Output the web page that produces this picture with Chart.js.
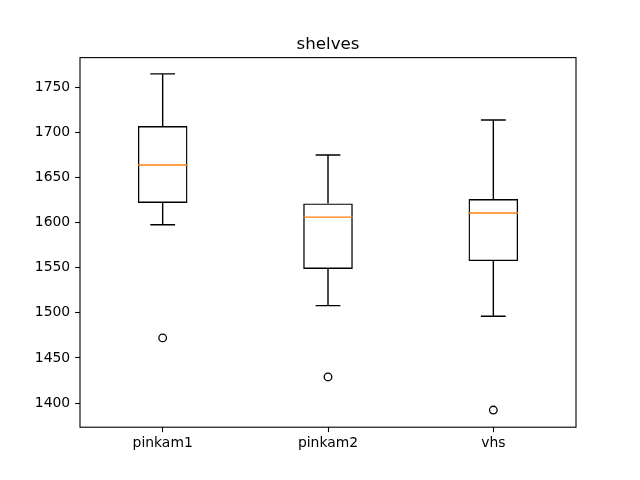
<!DOCTYPE html>
<html>
<head>
<meta charset="utf-8">
<script src="https://cdn.jsdelivr.net/npm/chart.js@4/dist/chart.umd.min.js"></script>
<style>
  html, body { margin: 0; padding: 0; background: #fff; }
  canvas { display: block; }
</style>
</head>
<body>
<canvas id="chart" width="640" height="480"></canvas>
<script>
// --- Data ---
const categories = ['pinkam1', 'pinkam2', 'vhs'];
const whiskerLow = [1597.6, 1508.0, 1496.2];
const quartile1 = [1621.7, 1548.7, 1557.3];
const medians = [1663.8, 1606.1, 1610.6];
const quartile3 = [1707.1, 1621.2, 1626.1];
const whiskerHigh = [1764.9, 1674.9, 1713.8];
const outliers = [1472.2, 1428.9, 1392.2];
const yTicks = [1400, 1450, 1500, 1550, 1600, 1650, 1700, 1750];
const yMin = 1373.2;
const yMax = 1782.9;
const titleText = 'shelves';

// --- Style ---
const FONT = 'DejaVu Sans';
const BOX_FRACTION = 0.3;   // box width as a fraction of one category slot
const LINE_W = 1.4;
const MEDIAN_COLOR = '#ff7f0e';

Chart.defaults.font.family = FONT;
Chart.defaults.color = '#000';

// whiskers, caps, medians, frame and title
const boxExtras = {
  id: 'boxExtras',
  afterDatasetsDraw(chart) {
    const { ctx, chartArea, scales: { x, y } } = chart;
    const slot = (chartArea.right - chartArea.left) / categories.length;
    const half = slot * BOX_FRACTION / 2;
    const capHalf = half / 2;

    ctx.save();
    ctx.lineWidth = LINE_W;
    ctx.lineCap = 'butt';
    categories.forEach((c, i) => {
      const cx = x.getPixelForValue(i);
      // whiskers
      ctx.strokeStyle = '#000';
      ctx.beginPath();
      ctx.moveTo(cx, y.getPixelForValue(quartile3[i]));
      ctx.lineTo(cx, y.getPixelForValue(whiskerHigh[i]));
      ctx.moveTo(cx, y.getPixelForValue(quartile1[i]));
      ctx.lineTo(cx, y.getPixelForValue(whiskerLow[i]));
      // caps
      const yh = y.getPixelForValue(whiskerHigh[i]);
      const yl = y.getPixelForValue(whiskerLow[i]);
      ctx.moveTo(cx - capHalf, yh);
      ctx.lineTo(cx + capHalf, yh);
      ctx.moveTo(cx - capHalf, yl);
      ctx.lineTo(cx + capHalf, yl);
      ctx.stroke();
      // median
      const ym = y.getPixelForValue(medians[i]);
      ctx.strokeStyle = MEDIAN_COLOR;
      ctx.beginPath();
      ctx.moveTo(cx - half, ym);
      ctx.lineTo(cx + half, ym);
      ctx.stroke();
    });

    // axes frame
    ctx.strokeStyle = '#000';
    ctx.lineWidth = 1.1;
    ctx.strokeRect(chartArea.left, chartArea.top,
      chartArea.right - chartArea.left, chartArea.bottom - chartArea.top);

    // title
    ctx.fillStyle = '#000';
    ctx.font = '16.67px "' + FONT + '"';
    ctx.textAlign = 'center';
    ctx.textBaseline = 'alphabetic';
    ctx.fillText(titleText, (chartArea.left + chartArea.right) / 2, chartArea.top - 8.3);
    ctx.restore();
  }
};

new Chart(document.getElementById('chart'), {
  data: {
    labels: categories,
    datasets: [
      {
        type: 'bar',
        data: quartile1.map((q, i) => [q, quartile3[i]]),
        backgroundColor: 'rgba(0,0,0,0)',
        borderColor: '#000',
        borderWidth: LINE_W,
        borderSkipped: false,
        barPercentage: BOX_FRACTION,
        categoryPercentage: 1
      },
      {
        type: 'line',
        data: outliers,
        showLine: false,
        pointStyle: 'circle',
        pointRadius: 3.8,
        pointBorderWidth: 1.3,
        pointBorderColor: '#000',
        pointBackgroundColor: 'rgba(0,0,0,0)'
      }
    ]
  },
  options: {
    responsive: false,
    animation: false,
    devicePixelRatio: 1,
    layout: { padding: { top: 57.6, right: 64, bottom: 0, left: 0 } },
    plugins: {
      legend: { display: false },
      title: { display: false },
      tooltip: { enabled: false }
    },
    scales: {
      x: {
        type: 'category',
        offset: true,
        border: { display: false },
        grid: {
          offset: false,
          drawOnChartArea: false,
          drawTicks: true,
          tickLength: 4.9,
          tickWidth: 1.1,
          tickColor: '#000'
        },
        ticks: { color: '#000', font: { size: 13.9 }, padding: 3, maxRotation: 0 },
        afterFit: (scale) => { scale.height = 52.8; }
      },
      y: {
        min: yMin,
        max: yMax,
        border: { display: false },
        grid: {
          drawOnChartArea: false,
          drawTicks: true,
          tickLength: 4.9,
          tickWidth: 1.1,
          tickColor: '#000'
        },
        ticks: {
          color: '#000',
          font: { size: 13.9 },
          padding: 4.9,
          callback: (v) => String(v)
        },
        afterBuildTicks: (scale) => { scale.ticks = yTicks.map(v => ({ value: v })); },
        afterFit: (scale) => { scale.width = 80; }
      }
    }
  },
  plugins: [boxExtras]
});
</script>
</body>
</html>
